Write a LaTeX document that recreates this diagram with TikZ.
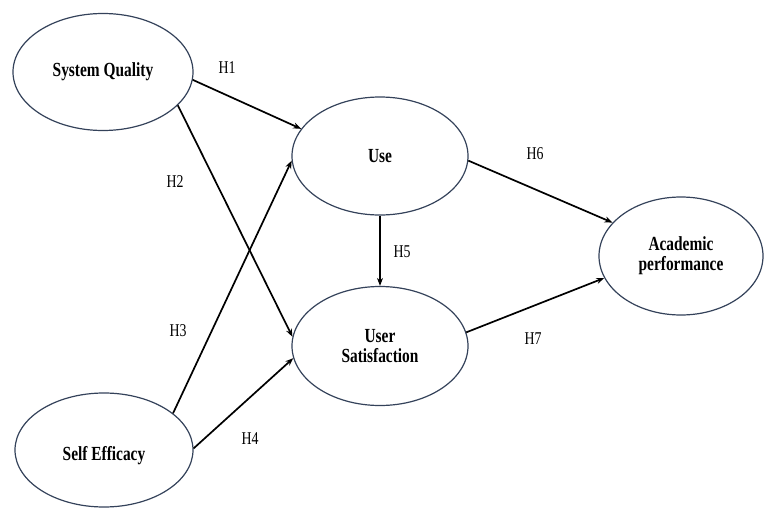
\documentclass[tikz,border=0pt]{standalone}
\usepackage{fontspec}
\setmainfont{Liberation Serif}[FakeStretch=0.77]
\usetikzlibrary{shapes.geometric,arrows.meta}
\definecolor{ellcol}{HTML}{34425A}
\tikzset{
  construct/.style={ellipse, draw=ellcol, line width=1.2pt, inner sep=0pt,
    font=\bfseries\fontsize{20}{20}\selectfont, align=center},
  path/.style={draw=black, line width=1.7pt, -{Stealth[length=8pt,width=6pt]}},
  hlabel/.style={font=\fontsize{18}{20}\selectfont, inner sep=0pt}
}
\begin{document}
\begin{tikzpicture}[x=1pt,y=-1pt]
\useasboundingbox (0,0) rectangle (764,509);
\node[construct, minimum width=180pt, minimum height=117pt] (sq) at (103,72) {System Quality};
\node[construct, minimum width=176pt, minimum height=118pt] (use) at (380,156) {Use};
\node[construct, minimum width=176pt, minimum height=119pt] (us) at (380,346) {User\\Satisfaction};
\node[construct, minimum width=164pt, minimum height=118pt] (ap) at (681,256) {Academic\\performance};
\node[construct, minimum width=178pt, minimum height=114pt, text height=25.7pt, text depth=4.3pt] (se) at (104,450) {Self Efficacy};

\draw[path] (sq.-5) -- (use.161);
\draw[path] (sq.-24) -- (us.174);
\draw[path] (se.28) -- (use.183);
\draw[path] (se.1) -- (us.188);
\draw[path, line width=1.2pt] (use.south) -- (us.north);
\draw[path] (use.-3) -- (ap.154);
\draw[path] (us.9) -- (ap.196);

\node[hlabel] (h1) at (227,68) {H1};
\node[hlabel] (h2) at (175,182) {H2};
\node[hlabel] (h3) at (178,331) {H3};
\node[hlabel] (h4) at (250,439) {H4};
\node[hlabel] (h5) at (402,252) {H5};
\node[hlabel] (h6) at (535,154) {H6};
\node[hlabel] (h7) at (533,339) {H7};
\end{tikzpicture}
\end{document}
